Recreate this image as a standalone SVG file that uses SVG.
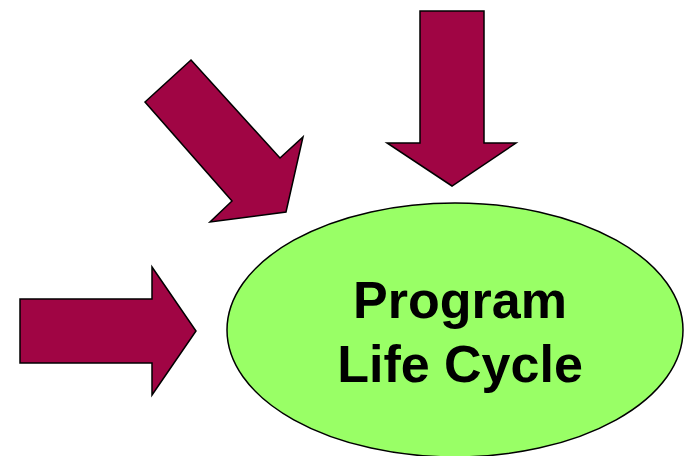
<svg xmlns="http://www.w3.org/2000/svg" width="684" height="456" viewBox="0 0 684 456">
  <style>
    .arrow { fill: #A00544; stroke: #000; stroke-width: 1.5; stroke-linejoin: miter; }
    .cycle { fill: #99FF66; stroke: #000; stroke-width: 1.5; }
    .label { font-family: "Liberation Sans", Arial, sans-serif; font-weight: bold; font-size: 52px; fill: #000; text-anchor: middle; }
  </style>
  <rect width="684" height="456" fill="#fff"/>
  <g id="connectors">
    <polygon id="arrow-left" class="arrow" points="20,299 152,299 152,267 196,331 152,395 152,363 20,363"/>
    <polygon id="arrow-diagonal" class="arrow" points="191,60 280,158 303,137 286,212 210,222 232,201 145,102"/>
    <polygon id="arrow-down" class="arrow" points="420,11 484,11 484,143 516,143 452,186 387,143 420,143"/>
  </g>
  <g id="node-program-life-cycle">
    <ellipse class="cycle" cx="455" cy="330" rx="228" ry="127"/>
    <text class="label" x="460" y="318">Program</text>
    <text class="label" x="460" y="382">Life Cycle</text>
  </g>
</svg>
